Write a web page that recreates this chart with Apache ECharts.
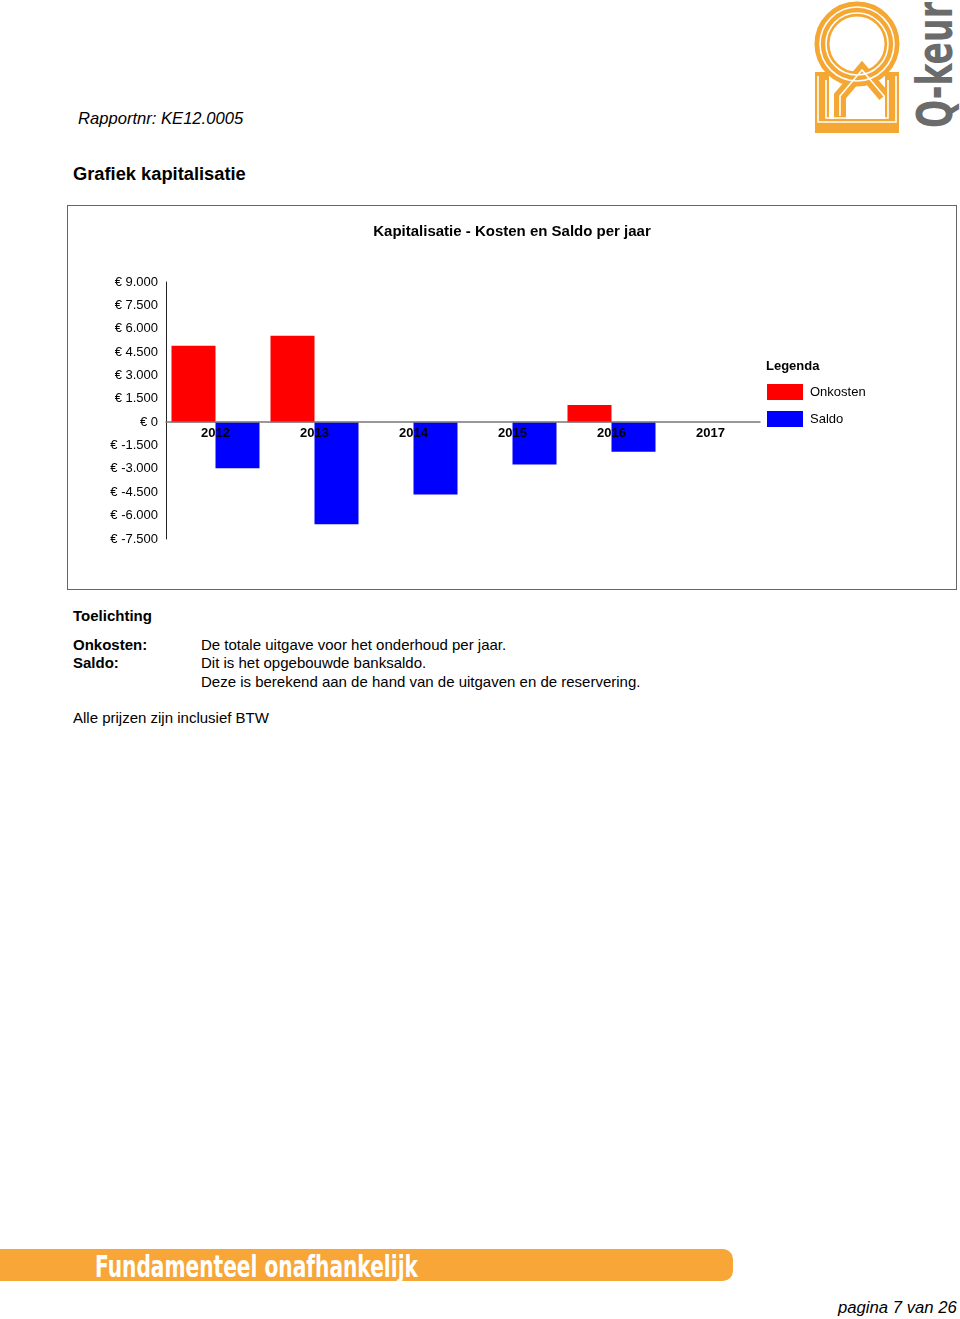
<!DOCTYPE html>
<html>
<head>
<meta charset="utf-8">
<title>Grafiek kapitalisatie</title>
<script src="https://cdn.jsdelivr.net/npm/echarts@6/dist/echarts.min.js"></script>
<style>
    body { margin: 0; width: 960px; height: 1319px; position: relative; background: #fff;
           font-family: "Liberation Sans", Arial, sans-serif; color: #000; overflow: hidden; }
    .abs { position: absolute; white-space: nowrap; }
    #chartBox { position: absolute; left: 67px; top: 205px; width: 890px; height: 385px;
                border: 1px solid #666; box-sizing: border-box; }
    #chart { width: 888px; height: 383px; }
</style>
</head>
<body>

<div class="abs" style="left:78px;top:109px;font-size:16.6px;font-style:italic;">Rapportnr: KE12.0005</div>
<div class="abs" style="left:73px;top:163px;font-size:18.3px;font-weight:bold;">Grafiek kapitalisatie</div>

<!-- logo -->
<svg class="abs" style="left:800px;top:0" width="160" height="135" viewBox="0 0 160 135">
    <g fill="none" stroke="#F5A733">
        <circle cx="57" cy="44" r="35" stroke-width="15"/>
        <path d="M22 72 L22 126 L92 126 L92 72" stroke-width="14"/>
        <path d="M40 120 L40 96 L62 70 L84 96" stroke-width="12"/>
    </g>
    <g fill="none" stroke="#fff" stroke-width="1.6">
        <circle cx="57" cy="44" r="31"/>
        <circle cx="57" cy="44" r="37"/>
        <path d="M18 76 L18 122 L96 122 L96 76"/>
        <path d="M26 80 L26 118 L88 118 L88 80"/>
        <path d="M40 116 L40 96 L62 70 L84 96"/>
    </g>
    <text x="0" y="0" transform="translate(152,128) rotate(-90)" textLength="126" lengthAdjust="spacingAndGlyphs"
          font-family="DejaVu Sans Condensed" font-weight="bold" font-size="50" fill="#6b6b6b">Q-keur</text>
</svg>

<div id="chartBox"><div id="chart"></div></div>

<div class="abs" style="left:73px;top:607px;font-size:15px;font-weight:bold;">Toelichting</div>
<div class="abs" style="left:73px;top:636px;font-size:15px;font-weight:bold;">Onkosten:</div>
<div class="abs" style="left:73px;top:654px;font-size:15px;font-weight:bold;">Saldo:</div>
<div class="abs" style="left:201px;top:636px;font-size:15px;">De totale uitgave voor het onderhoud per jaar.</div>
<div class="abs" style="left:201px;top:654px;font-size:15px;">Dit is het opgebouwde banksaldo.</div>
<div class="abs" style="left:201px;top:673px;font-size:15px;">Deze is berekend aan de hand van de uitgaven en de reservering.</div>
<div class="abs" style="left:73px;top:709px;font-size:15px;">Alle prijzen zijn inclusief BTW</div>

<!-- footer -->
<div class="abs" style="left:0;top:1249px;width:733px;height:32px;background:#F7A637;border-radius:0 10px 10px 0;"></div>
<svg class="abs" style="left:0;top:1240px" width="740" height="50">
    <text x="95" y="37" textLength="323" lengthAdjust="spacingAndGlyphs" font-family="DejaVu Sans Condensed"
          font-weight="bold" font-size="31" fill="#fff">Fundamenteel onafhankelijk</text>
</svg>
<div class="abs" style="left:838px;top:1298px;font-size:16.7px;font-style:italic;">pagina 7 van 26</div>

<script>
const categories = ['2012', '2013', '2014', '2015', '2016', '2017'];
const onkosten = [4900, 5550, 0, 0, 1100, 0];
const saldo = [-2950, -6550, -4650, -2720, -1900, 0];

const yMin = -7500;
const yMax = 9000;

function euro(value) {
    const s = Math.abs(value).toString().replace(/\B(?=(\d{3})+(?!\d))/g, '.');
    return '€ ' + (value < 0 ? '-' : '') + s;
}

const chartHeight = 383;
const gridTop = 76;
const gridBottom = 50;
// the year labels sit right under the zero line, so shift the bottom axis up to it
const plotHeight = chartHeight - gridTop - gridBottom;
const zeroOffset = -plotHeight * (0 - yMin) / (yMax - yMin);

const myChart = echarts.init(document.getElementById('chart'));
const option = {
    backgroundColor: '#ffffff',
    animation: false,
    textStyle: {fontFamily: 'Liberation Sans'},
    title: [
        {
            text: 'Kapitalisatie - Kosten en Saldo per jaar',
            left: 'center',
            top: 18,
            padding: 0,
            textStyle: {fontSize: 15, fontWeight: 'bold', color: '#000'}
        },
        {
            text: 'Legenda',
            left: 698,
            top: 154,
            padding: 0,
            textStyle: {fontSize: 13, fontWeight: 'bold', color: '#000'}
        }
    ],
    legend: {
        orient: 'vertical',
        left: 699,
        top: 178,
        padding: 0,
        itemWidth: 36,
        itemHeight: 16,
        itemGap: 11,
        icon: 'rect',
        textStyle: {fontSize: 13, color: '#000', padding: [2, 0, 0, 2]},
        data: ['Onkosten', 'Saldo']
    },
    grid: {
        left: 98,
        right: 196,
        top: gridTop,
        bottom: gridBottom
    },
    xAxis: {
        type: 'category',
        data: categories,
        position: 'bottom',
        offset: zeroOffset,
        z: 5,
        axisLine: {onZero: false, lineStyle: {color: '#777', width: 1.5}},
        axisTick: {show: false},
        axisLabel: {
            margin: 5,
            color: '#000',
            fontSize: 13,
            fontWeight: 'bold'
        }
    },
    yAxis: {
        type: 'value',
        min: yMin,
        max: yMax,
        interval: 1500,
        axisLine: {show: true, lineStyle: {color: '#222'}},
        axisTick: {show: false},
        splitLine: {show: false},
        axisLabel: {
            margin: 8,
            color: '#000',
            fontSize: 13,
            formatter: euro
        }
    },
    series: [
        {
            name: 'Onkosten',
            type: 'bar',
            data: onkosten,
            barWidth: 44,
            barGap: '0%',
            itemStyle: {color: '#ff0000'}
        },
        {
            name: 'Saldo',
            type: 'bar',
            data: saldo,
            barWidth: 44,
            barGap: '0%',
            itemStyle: {color: '#0000ff'}
        }
    ]
};
myChart.setOption(option);
</script>
</body>
</html>
